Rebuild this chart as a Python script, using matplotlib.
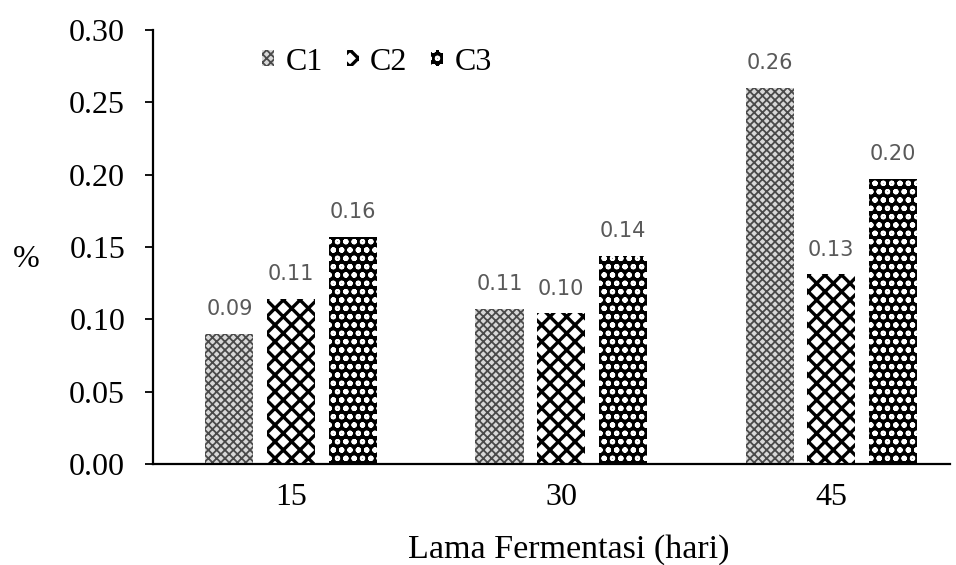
import numpy as np
import matplotlib.pyplot as plt
import matplotlib as mpl

days = ['15', '30', '45']
series = ['C1', 'C2', 'C3']
c1 = [0.090, 0.107, 0.260]
c2 = [0.114, 0.104, 0.131]
c3 = [0.157, 0.144, 0.197]
labels = [['0.09', '0.11', '0.26'], ['0.11', '0.10', '0.13'], ['0.16', '0.14', '0.20']]
yticks = [0.00, 0.05, 0.10, 0.15, 0.20, 0.25, 0.30]

mpl.rcParams['hatch.linewidth'] = 1.5
serif = ['Liberation Serif', 'DejaVu Serif']

fig = plt.figure(figsize=(9.56, 5.65), dpi=100)
ax = fig.add_axes([0.160, 0.179, 0.8337, 0.768])

x = np.arange(len(days))
w = 0.178
step = 0.228
# pattern fills: fine grey dots, black cross-hatch, black with white dots
styles = [
    dict(facecolor='#d8d8d8', edgecolor='#4a4a4a', hatch='xxxx'),
    dict(facecolor='white', edgecolor='black', hatch='xx'),
    dict(facecolor='black', edgecolor='white', hatch='oo'),
]
hatch_lw = [1.3, 2.4, 1.5]
for i, (vals, name) in enumerate(zip([c1, c2, c3], series)):
    b = ax.bar(x + (i - 1) * step, vals, w, label=name, linewidth=0, **styles[i])
    for rect, lab in zip(b, labels[i]):
        if hasattr(rect, 'set_hatch_linewidth'):
            rect.set_hatch_linewidth(hatch_lw[i])
        ax.annotate(lab, (rect.get_x() + rect.get_width() / 2, rect.get_height()),
                    xytext=(0, 13.5), textcoords='offset points',
                    ha='center', va='baseline', fontsize=15, color='#595959',
                    family=['DejaVu Sans'])

ax.set_xlim(-0.511, 2.44)
ax.set_ylim(0, 0.30)
ax.set_yticks(yticks)
ax.set_yticklabels(['%.2f' % v for v in yticks], family=serif, fontsize=23)
ax.set_xticks(x)
ax.set_xticklabels(days, family=serif, fontsize=23)
ax.tick_params(axis='x', length=0, pad=14)
ax.tick_params(axis='y', length=6, direction='out', width=1.3, pad=14)
for s in ['top', 'right']:
    ax.spines[s].set_visible(False)
for s in ['left', 'bottom']:
    ax.spines[s].set_linewidth(1.6)

ax.text(0.522, -0.2166, 'Lama Fermentasi (hari)', transform=ax.transAxes,
        ha='center', va='baseline', family=serif, fontsize=24.5)
ax.text(-0.159, 0.47, '%', transform=ax.transAxes, ha='center', va='center',
        family=serif, fontsize=23)

leg = ax.legend(loc='center left', bbox_to_anchor=(0.137, 0.926), ncol=3, frameon=False,
                prop={'family': serif, 'size': 23}, handlelength=0.38, handleheight=0.4,
                handletextpad=0.35, columnspacing=0.75, borderpad=0, borderaxespad=0)
for h, lw in zip(leg.legend_handles, hatch_lw):
    if hasattr(h, 'set_hatch_linewidth'):
        h.set_hatch_linewidth(lw)

fig.savefig('out.png', dpi=100)
